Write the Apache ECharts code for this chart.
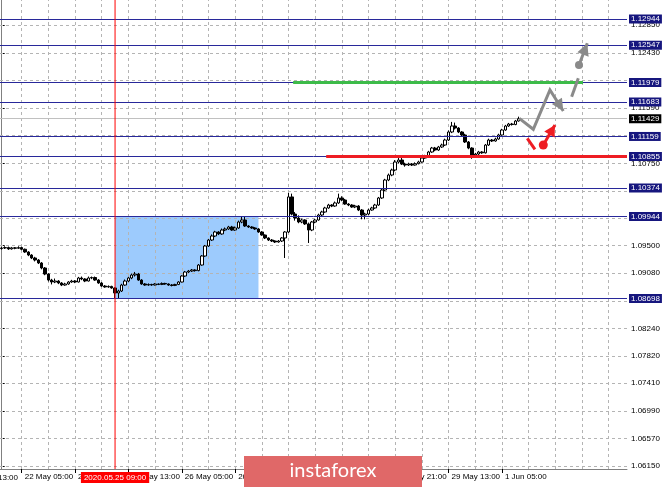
<!DOCTYPE html>
<html><head><meta charset="utf-8">
<script src="https://cdn.jsdelivr.net/npm/echarts@6/dist/echarts.min.js"></script>
<style>html,body{margin:0;padding:0;background:#fff}#c{width:665px;height:487px}</style>
</head><body><div id="c"></div>
<script>
// ---- time axis ----
const tradingDays = ['21 May','22 May','25 May','26 May','27 May','28 May','29 May','1 Jun'];
const firstHour = 23, lastHour = 10, futureSlots = 32;
const timeLabels = ['22 May 05:00','22 May 21:00','25 May 13:00','26 May 05:00','26 May 21:00','27 May 13:00','28 May 05:00','28 May 21:00','29 May 13:00','1 Jun 05:00'];
const gridTimes = ['22 May 05:00','22 May 13:00','22 May 21:00','25 May 05:00','25 May 13:00','25 May 21:00','26 May 05:00','26 May 13:00','26 May 21:00','27 May 05:00','27 May 13:00','27 May 21:00','28 May 05:00','28 May 13:00','28 May 21:00','29 May 05:00','29 May 13:00','29 May 21:00','1 Jun 05:00'];
const futureGrid = [158, 166, 174, 182];
const cursorTime = '25 May 09:00', cursorLabel = '2020.05.25 09:00';
const cutLabel = '21 May 13:00';

// ---- prices (EURUSD H1) ----
const opens = [
1.09455,1.09464,1.09470,1.09450,1.09466,1.09460,1.09470,1.09445,1.09403,1.09357,
1.09312,1.09281,1.09236,1.09160,1.09068,1.08977,1.08947,1.08962,1.08932,1.08901,
1.08917,1.08947,1.08962,1.08947,1.09008,1.08993,1.08962,1.09008,1.09015,1.08977,
1.08932,1.08886,1.08871,1.08880,1.08856,1.08780,1.08810,1.08901,1.08962,1.09008,
1.09053,1.09068,1.08977,1.08917,1.08901,1.08910,1.08901,1.08917,1.08910,1.08925,
1.08917,1.08901,1.08895,1.08910,1.08947,1.09038,1.09099,1.09114,1.09129,1.09120,
1.09205,1.09342,1.09494,1.09585,1.09646,1.09707,1.09677,1.09737,1.09753,1.09783,
1.09737,1.09768,1.09859,1.09889,1.09798,1.09783,1.09768,1.09753,1.09707,1.09661,
1.09616,1.09585,1.09570,1.09555,1.09570,1.09616,1.09707,1.10240,1.09980,1.09920,
1.09859,1.09889,1.09830,1.09737,1.09859,1.09889,1.09965,1.10011,1.10072,1.10117,
1.10102,1.10148,1.10224,1.10193,1.10132,1.10117,1.10087,1.10102,1.10041,1.09965,
1.09980,1.10041,1.10072,1.10117,1.10224,1.10345,1.10497,1.10573,1.10649,1.10771,
1.10801,1.10740,1.10725,1.10740,1.10725,1.10745,1.10771,1.10831,1.10862,1.10923,
1.10983,1.10953,1.10999,1.11029,1.11105,1.11227,1.11318,1.11287,1.11227,1.11181,
1.11075,1.10983,1.10877,1.10892,1.10923,1.10910,1.11029,1.11105,1.11090,1.11120,
1.11181,1.11257,1.11318,1.11348,1.11340,1.11394];
const closes = [
1.09464,1.09470,1.09450,1.09466,1.09460,1.09470,1.09445,1.09403,1.09357,1.09312,
1.09281,1.09236,1.09160,1.09068,1.08977,1.08947,1.08962,1.08932,1.08901,1.08917,
1.08947,1.08962,1.08947,1.09008,1.08993,1.08962,1.09008,1.09015,1.08977,1.08932,
1.08886,1.08871,1.08880,1.08856,1.08780,1.08810,1.08901,1.08962,1.09008,1.09053,
1.09068,1.08977,1.08917,1.08901,1.08910,1.08901,1.08917,1.08910,1.08925,1.08917,
1.08901,1.08895,1.08910,1.08947,1.09038,1.09099,1.09114,1.09129,1.09120,1.09205,
1.09342,1.09494,1.09585,1.09646,1.09707,1.09677,1.09737,1.09753,1.09783,1.09737,
1.09768,1.09859,1.09889,1.09798,1.09783,1.09768,1.09753,1.09707,1.09661,1.09616,
1.09585,1.09570,1.09555,1.09570,1.09616,1.09707,1.10240,1.09980,1.09920,1.09859,
1.09889,1.09830,1.09737,1.09859,1.09889,1.09965,1.10011,1.10072,1.10117,1.10102,
1.10148,1.10224,1.10193,1.10132,1.10117,1.10087,1.10102,1.10041,1.09965,1.09980,
1.10041,1.10072,1.10117,1.10224,1.10345,1.10497,1.10573,1.10649,1.10771,1.10801,
1.10740,1.10725,1.10740,1.10725,1.10745,1.10771,1.10831,1.10862,1.10923,1.10983,
1.10953,1.10999,1.11029,1.11105,1.11227,1.11318,1.11287,1.11227,1.11181,1.11075,
1.10983,1.10877,1.10892,1.10923,1.10910,1.11029,1.11105,1.11090,1.11120,1.11181,
1.11257,1.11318,1.11348,1.11340,1.11394,1.11429];
const lows = [
1.09440,1.09450,1.09435,1.09440,1.09445,1.09450,1.09430,1.09390,1.09340,1.09295,
1.09260,1.09220,1.09140,1.09050,1.08955,1.08910,1.08930,1.08915,1.08885,1.08890,
1.08905,1.08935,1.08930,1.08940,1.08975,1.08945,1.08955,1.08990,1.08965,1.08920,
1.08875,1.08860,1.08860,1.08845,1.08700,1.08698,1.08795,1.08890,1.08945,1.08990,
1.09030,1.08965,1.08905,1.08890,1.08890,1.08890,1.08895,1.08900,1.08900,1.08905,
1.08890,1.08880,1.08885,1.08900,1.08940,1.09025,1.09085,1.09100,1.09105,1.09110,
1.09195,1.09330,1.09480,1.09570,1.09630,1.09660,1.09665,1.09720,1.09740,1.09725,
1.09725,1.09755,1.09840,1.09785,1.09770,1.09755,1.09740,1.09695,1.09650,1.09600,
1.09570,1.09555,1.09540,1.09545,1.09555,1.09312,1.09690,1.09960,1.09880,1.09840,
1.09840,1.09815,1.09540,1.09720,1.09840,1.09880,1.09950,1.10000,1.10060,1.10085,
1.10090,1.10135,1.10175,1.10120,1.10100,1.10075,1.10070,1.10025,1.09900,1.09900,
1.09965,1.10030,1.10060,1.10105,1.10210,1.10330,1.10480,1.10555,1.10630,1.10750,
1.10725,1.10700,1.10710,1.10710,1.10715,1.10735,1.10760,1.10820,1.10850,1.10910,
1.10935,1.10940,1.10985,1.11015,1.11090,1.11210,1.11265,1.11210,1.11160,1.11060,
1.10965,1.10820,1.10860,1.10875,1.10895,1.10900,1.11015,1.11075,1.11080,1.11110,
1.11170,1.11245,1.11305,1.11325,1.11330,1.11385];
const highs = [
1.09480,1.09490,1.09485,1.09480,1.09478,1.09490,1.09482,1.09455,1.09415,1.09370,
1.09330,1.09295,1.09250,1.09175,1.09080,1.08995,1.09000,1.08975,1.08945,1.08935,
1.08960,1.08980,1.08975,1.09025,1.09030,1.09005,1.09030,1.09030,1.09030,1.08990,
1.08945,1.08900,1.08895,1.08890,1.08865,1.08830,1.08920,1.08985,1.09025,1.09075,
1.09100,1.09085,1.08990,1.08930,1.08925,1.08920,1.08930,1.08925,1.08940,1.08935,
1.08925,1.08915,1.08920,1.08960,1.09050,1.09115,1.09130,1.09145,1.09140,1.09220,
1.09355,1.09510,1.09600,1.09670,1.09725,1.09720,1.09760,1.09775,1.09800,1.09800,
1.09790,1.09880,1.09950,1.09935,1.09810,1.09795,1.09780,1.09765,1.09720,1.09670,
1.09625,1.09600,1.09580,1.09585,1.09630,1.09720,1.10300,1.10290,1.10010,1.09960,
1.09910,1.09900,1.09850,1.09875,1.09905,1.09985,1.10030,1.10090,1.10135,1.10130,
1.10170,1.10290,1.10250,1.10210,1.10145,1.10130,1.10120,1.10115,1.10055,1.10000,
1.10060,1.10090,1.10135,1.10240,1.10365,1.10515,1.10595,1.10670,1.10800,1.10870,
1.10850,1.10760,1.10760,1.10755,1.10765,1.10790,1.10850,1.10880,1.10940,1.11000,
1.11000,1.11015,1.11050,1.11125,1.11250,1.11380,1.11370,1.11300,1.11240,1.11200,
1.11090,1.10995,1.10910,1.10940,1.10935,1.11045,1.11125,1.11120,1.11140,1.11200,
1.11275,1.11335,1.11365,1.11365,1.11410,1.11460];

// ---- price axis ----
const yMin = 1.06105, yMax = 1.13233;
const yTickLabels = [1.12850,1.12430,1.11590,1.10750,1.09500,1.09080,1.08240,1.07820,1.07410,1.06990,1.06570,1.06150];
const yGrid = [1.12850,1.12430,1.12010,1.11590,1.11170,1.10750,1.10330,1.09920,1.09500,1.09080,1.08660,1.08240,1.07820,1.07410,1.06990,1.06570,1.06150];

// ---- levels & annotations ----
const levels = [1.12944,1.12547,1.11979,1.11683,1.11159,1.10855,1.10374,1.09944,1.08698];
const bid = 1.11429;
const zoneTo = '27 May 04:00';
const zoneHigh = 1.09944, zoneLow = 1.08698;
const greenLevel = 1.11979, greenSpan = [87.4, 174.3];
const redLevel = 1.10855, redSpan = [97.3, 187.5];
const grayZig = [[155.2,1.11434],[159.4,1.11268],[164.4,1.11865],[168.4,1.11546]];
const grayDash = [[170.9,1.11763],[172.9,1.12043]];
const grayDot = [173.1,1.12245];
const grayTip = [175.6,1.12575];
const redDash = [[157.6,1.11131],[159.9,1.10964]];
const redDot = [162.4,1.11029];
const redTip = [165.9,1.11333];

// categories
const cats = [];
tradingDays.forEach((d, k) => {
  const h0 = k === 0 ? firstHour : 0;
  const h1 = k === tradingDays.length - 1 ? lastHour : 23;
  for (let h = h0; h <= h1; h++) cats.push(d + ' ' + String(h).padStart(2, '0') + ':00');
});
for (let i = 0; i < futureSlots; i++) cats.push('');
const N = cats.length;
const candles = opens.map((o, i) => [o, closes[i], lows[i], highs[i]]);
const cursorIdx = cats.indexOf(cursorTime);

const FONT = 'Liberation Sans, Arial, sans-serif';
const lblFn = (i, v) => timeLabels.indexOf(v) >= 0;
const GRAY = '#8a8a8a', RED = '#ee1d23';
const P = 5;

function head(tip, from, len, half, color) {
  const dx = tip[0] - from[0], dy = tip[1] - from[1];
  const d = Math.hypot(dx, dy) || 1, ux = dx / d, uy = dy / d;
  const bx = tip[0] - ux * len, by = tip[1] - uy * len;
  return { type: 'polygon', shape: { points: [tip, [bx - uy * half, by + ux * half], [bx + uy * half, by - ux * half]] }, style: { fill: color } };
}

const chart = echarts.init(document.getElementById('c'), null, { renderer: 'canvas' });
chart.setOption({
  animation: false,
  backgroundColor: '#ffffff',
  grid: { left: 0, right: 38, top: 0, bottom: 18, containLabel: false },
  xAxis: [{
    type: 'category', data: cats, boundaryGap: true,
    axisLine: { show: true, lineStyle: { color: '#808080', width: 1 } },
    axisTick: { show: true, alignWithLabel: true, interval: lblFn, length: 4, lineStyle: { color: '#000' } },
    axisLabel: { interval: lblFn, align: 'left', fontSize: 8, color: '#000', margin: 4, padding: [0, 0, 0, 3], fontFamily: FONT },
    splitLine: { show: false },
    axisPointer: { show: false }
  }, {
    type: 'value', min: -0.5, max: N - 0.5, show: false
  }],
  yAxis: [{
    type: 'value', position: 'right', min: yMin, max: yMax,
    axisLine: { show: true, lineStyle: { color: '#808080', width: 1 } },
    axisTick: { show: true, customValues: yTickLabels, length: 3, lineStyle: { color: '#000' } },
    axisLabel: { customValues: yTickLabels, formatter: v => v.toFixed(5), fontSize: 8, color: '#000', margin: 4, fontFamily: FONT },
    splitLine: { show: false }
  }],
  series: [
    { // zone rectangle
      type: 'line', xAxisIndex: 1, data: [], silent: true,
      markArea: { silent: true, z: 1, precision: P, itemStyle: { color: '#9dcbfd', borderWidth: 0 },
        data: [[{ xAxis: cursorIdx, yAxis: zoneHigh }, { xAxis: cats.indexOf(zoneTo), yAxis: zoneLow }]] }
    },
    { // grid
      type: 'line', xAxisIndex: 1, data: [], silent: true,
      markLine: { silent: true, z: 2, precision: P, symbol: 'none',
        lineStyle: { color: '#b4b4b4', type: [3, 3], width: 1 }, label: { show: false },
        data: yGrid.map(v => ({ yAxis: v }))
          .concat(gridTimes.map(t => ({ xAxis: cats.indexOf(t) })))
          .concat(futureGrid.map(x => ({ xAxis: x }))) }
    },
    { // bid line
      type: 'line', xAxisIndex: 1, data: [], silent: true,
      markLine: { silent: true, z: 3, precision: P, symbol: 'none',
        lineStyle: { color: '#c0c0c0', type: 'solid', width: 1 },
        label: { show: true, position: 'end', distance: 2, formatter: p => p.value.toFixed(5), color: '#fff', backgroundColor: '#000', padding: [1, 2, 0, 2], fontSize: 8, fontFamily: FONT },
        data: [{ yAxis: bid }] }
    },
    {
      type: 'candlestick', xAxisIndex: 0, data: candles, barWidth: 3, z: 4,
      itemStyle: { color: '#ffffff', color0: '#000000', borderColor: '#000000', borderColor0: '#000000', borderWidth: 1 }
    },
    { // levels
      type: 'line', xAxisIndex: 1, data: [], silent: true,
      markLine: { silent: true, z: 5, precision: P, symbol: 'none',
        lineStyle: { color: '#28289a', type: 'solid', width: 1 },
        label: { show: true, position: 'end', distance: 2, formatter: p => p.value.toFixed(5), color: '#fff', backgroundColor: '#16167e', padding: [1, 2, 0, 2], fontSize: 8, fontFamily: FONT },
        data: levels.map(v => ({ yAxis: v })) }
    },
    { // green & red segments
      type: 'line', xAxisIndex: 1, data: [], silent: true,
      markLine: { silent: true, z: 6, precision: P, symbol: 'none', label: { show: false },
        data: [
          [{ coord: [greenSpan[0], greenLevel], lineStyle: { color: '#3dbb49', width: 3, type: 'solid' } }, { coord: [greenSpan[1], greenLevel] }],
          [{ coord: [redSpan[0], redLevel], lineStyle: { color: RED, width: 3, type: 'solid' } }, { coord: [redSpan[1], redLevel] }]
        ] }
    },
    { // cursor line + label + forecast arrows
      type: 'custom', xAxisIndex: 1, data: [[160, 1.115]], z: 7, silent: true, clip: false,
      renderItem: (params, api) => {
        const c = a => api.coord(a);
        const cTop = c([cursorIdx, yMax]), cBot = c([cursorIdx, yMin]);
        const zig = grayZig.map(c), gd = grayDash.map(c), gdot = c(grayDot), gtip = c(grayTip);
        const rd = redDash.map(c), rdot = c(redDot), rtip = c(redTip);
        const ln = (pts, col, w) => ({ type: 'polyline', shape: { points: pts }, style: { stroke: col, lineWidth: w || 3, fill: null, lineJoin: 'miter' } });
        return { type: 'group', children: [
          ln([cTop, cBot], '#ff0000', 1),
          { type: 'text', style: { text: cursorLabel, x: cBot[0], y: cBot[1] + 3, align: 'center', verticalAlign: 'top',
              fill: '#ffffff', backgroundColor: '#ff0000', padding: [2, 3, 1, 3], font: '8px ' + FONT } },
          ln(zig, GRAY),
          head(zig[zig.length - 1], zig[zig.length - 2], 12, 6, GRAY),
          ln(gd, GRAY),
          { type: 'circle', shape: { cx: gdot[0], cy: gdot[1], r: 4 }, style: { fill: GRAY } },
          ln([gdot, gtip], GRAY),
          head(gtip, gdot, 12, 6, GRAY),
          ln(rd, RED),
          { type: 'circle', shape: { cx: rdot[0], cy: rdot[1], r: 4.5 }, style: { fill: RED } },
          ln([rdot, rtip], RED),
          head(rtip, rdot, 11, 6, RED)
        ] };
      }
    }
  ],
  graphic: [
    { type: 'text', z: 50, style: { text: cutLabel, x: 18, y: 478, align: 'right', verticalAlign: 'middle', fill: '#000', font: '8px ' + FONT } },
    { type: 'rect', z: 100, shape: { x: 244, y: 456, width: 178, height: 31 }, style: { fill: '#e06868' } },
    { type: 'text', z: 101, style: { text: 'instaforex', x: 333, y: 471, align: 'center', verticalAlign: 'middle', fill: '#ffffff', font: '20px Lato, "Open Sans", sans-serif' } }
  ]
});
</script>
</body></html>
